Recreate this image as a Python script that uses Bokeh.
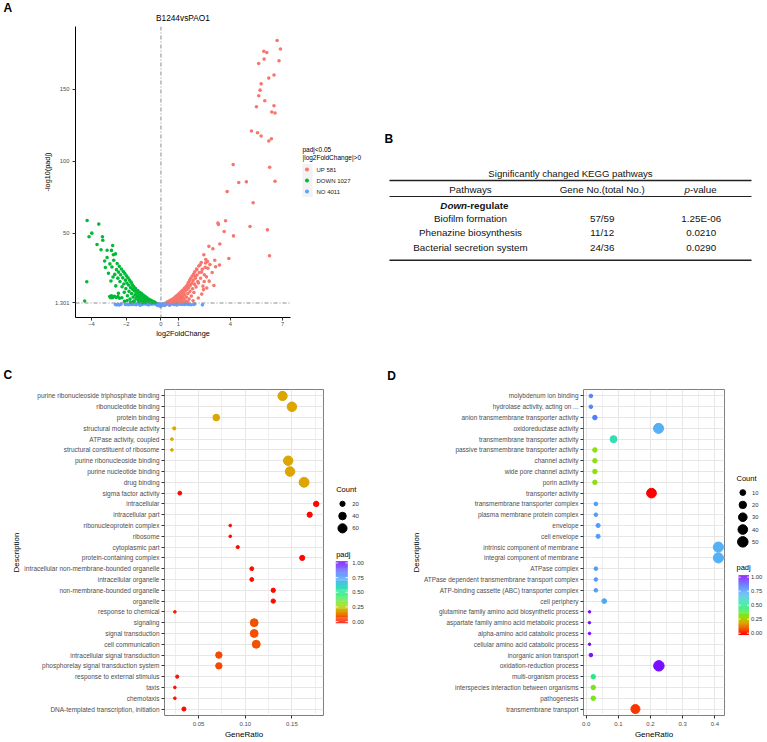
import numpy as np
from bokeh.plotting import figure
from bokeh.models import (Range1d, FactorRange, FixedTicker, PrintfTickFormatter, Span,
                          LinearColorMapper, ColumnDataSource)
from bokeh.layouts import row, column
from bokeh.transform import transform
from bokeh.core.properties import value
from bokeh.embed import file_html
from bokeh.resources import INLINE

FONT = "Liberation Sans"

# ---------------- data: panel A (volcano) ----------------
volcano_title = "B1244vsPAO1"
up_count, down_count, ns_count = 581, 1027, 4011
legend_title = ["padj<0.05", "|log2FoldChange|>0"]
padj_cut = 1.301
volc_xticks = [-4, -2, 0, 1, 4, 7]
volc_yticks = [1.301, 50, 100, 150]

up_pts = [(6.69, 184.0), (6.88, 178.0), (5.92, 176.5), (6.09, 175.6), (5.94, 171.0), (6.80, 169.9),
          (5.63, 168.0), (6.51, 159.9), (6.21, 157.8), (5.77, 153.8), (5.71, 149.4), (5.63, 145.5),
          (5.98, 142.0), (6.51, 138.6), (5.50, 137.9), (6.38, 134.2), (6.57, 133.5), (5.21, 121.0),
          (5.56, 119.8), (5.77, 117.5), (6.36, 115.6), (6.21, 114.0), (4.16, 97.6), (6.26, 95.7),
          (4.48, 85.1), (4.92, 85.6), (6.57, 86.0), (3.81, 78.8), (5.31, 71.0), (3.28, 56.9),
          (3.31, 56.0), (3.72, 58.5), (3.64, 51.0), (4.18, 48.0), (5.13, 54.5), (6.13, 52.2),
          (3.39, 42.3), (2.76, 40.7), (2.99, 39.0), (2.47, 34.9), (3.10, 31.0), (3.91, 32.3),
          (3.37, 27.7), (6.25, 34.2), (2.57, 29.1), (2.26, 27.9), (2.55, 26.1), (2.07, 24.4),
          (1.97, 19.8), (2.64, 11.7), (2.49, 16.3), (2.16, 15.2), (2.34, 22.8), (2.68, 30.2),
          (2.45, 10.6), (0.32, 1.5), (0.38, 2.1), (0.42, 1.7), (0.47, 2.6), (0.52, 1.9), (0.55, 3.1),
          (0.60, 2.4), (0.63, 3.6), (0.68, 2.0), (0.70, 4.2), (0.74, 3.0), (0.78, 4.9), (0.80, 2.4),
          (0.84, 5.6), (0.86, 3.6), (0.90, 6.3), (0.92, 2.9), (0.95, 4.6), (0.98, 7.0), (1.00, 3.4),
          (1.03, 5.6), (1.06, 8.0), (1.08, 2.6), (1.10, 6.5), (1.12, 4.2), (1.15, 9.0), (1.18, 5.2),
          (1.20, 7.4), (1.22, 3.1), (1.25, 10.2), (1.27, 6.0), (1.30, 8.5), (1.32, 4.3), (1.35, 11.5),
          (1.37, 7.0), (1.40, 9.6), (1.42, 2.7), (1.45, 12.8), (1.47, 5.4), (1.50, 10.8), (1.52, 14.0),
          (1.55, 7.9), (1.58, 15.6), (1.60, 12.0), (1.62, 4.0), (1.65, 17.0), (1.67, 9.4), (1.70, 13.6),
          (1.72, 18.5), (1.75, 6.2), (1.78, 15.0), (1.80, 20.0), (1.82, 11.2), (1.85, 17.0),
          (1.88, 21.5), (1.90, 8.6), (1.93, 14.4), (1.95, 23.0), (1.98, 18.6), (2.02, 12.5),
          (2.05, 25.0), (2.08, 20.8), (2.12, 16.2), (2.18, 27.0), (2.22, 22.5), (2.28, 18.5),
          (2.32, 29.5), (2.38, 24.8), (2.42, 13.0), (2.50, 21.0), (2.58, 31.5), (2.62, 19.5),
          (2.70, 25.5), (2.78, 16.5), (2.82, 28.0), (2.95, 22.5), (3.05, 13.5), (3.15, 26.5),
          (1.25, 1.9), (0.88, 1.6), (1.55, 2.2), (1.85, 2.9), (2.15, 4.8), (2.35, 7.5), (1.05, 1.5),
          (0.58, 1.45)]

down_pts = [(-4.25, 58.7), (-3.58, 56.2), (-3.98, 49.9), (-4.14, 47.4), (-3.37, 47.4), (-3.35, 45.0),
            (-3.68, 42.0), (-2.78, 41.3), (-3.45, 38.3), (-3.10, 38.0), (-2.85, 37.9), (-2.74, 34.9),
            (-2.62, 35.5), (-3.24, 30.5), (-4.27, 16.1), (-4.39, 2.7), (-2.95, 5.8), (-2.85, 6.3),
            (-2.75, 5.4), (-2.68, 6.0), (-2.58, 5.1), (-2.48, 5.7), (-2.90, 4.9), (-2.38, 4.6),
            (-2.80, 5.0), (-0.32, 1.5), (-0.38, 2.0), (-0.42, 1.7), (-0.47, 2.5), (-0.52, 1.9),
            (-0.56, 3.0), (-0.60, 2.3), (-0.64, 3.5), (-0.68, 2.0), (-0.72, 4.0), (-0.76, 2.8),
            (-0.80, 4.7), (-0.82, 2.3), (-0.86, 5.3), (-0.88, 3.5), (-0.92, 6.0), (-0.95, 2.8),
            (-0.98, 4.5), (-1.02, 6.8), (-1.04, 3.3), (-1.08, 5.4), (-1.12, 7.8), (-1.14, 2.6),
            (-1.17, 6.3), (-1.20, 4.2), (-1.23, 8.8), (-1.26, 5.2), (-1.29, 7.2), (-1.31, 3.0),
            (-1.34, 10.0), (-1.37, 6.0), (-1.40, 8.4), (-1.43, 4.3), (-1.46, 11.4), (-1.49, 7.0),
            (-1.52, 9.6), (-1.54, 2.7), (-1.57, 12.8), (-1.60, 5.4), (-1.63, 10.8), (-1.66, 14.2),
            (-1.69, 7.9), (-1.72, 15.8), (-1.75, 12.0), (-1.78, 4.0), (-1.81, 17.2), (-1.84, 9.4),
            (-1.87, 13.8), (-1.90, 18.8), (-1.93, 6.3), (-1.96, 15.2), (-1.99, 20.2), (-2.02, 11.3),
            (-2.05, 17.2), (-2.08, 21.8), (-2.11, 8.7), (-2.14, 14.5), (-2.17, 23.2), (-2.20, 18.8),
            (-2.24, 12.6), (-2.28, 25.0), (-2.32, 21.0), (-2.36, 16.3), (-2.40, 26.8), (-2.44, 22.8),
            (-2.48, 18.6), (-2.52, 28.8), (-2.56, 24.5), (-2.60, 13.2), (-2.66, 21.2), (-2.72, 31.0),
            (-2.76, 19.4), (-2.82, 26.3), (-2.88, 16.6), (-2.94, 28.5), (-3.02, 22.0), (-3.10, 33.0),
            (-3.20, 26.0), (-1.25, 1.9), (-0.90, 1.6), (-1.60, 2.2), (-1.95, 3.0), (-2.25, 4.9),
            (-2.45, 8.0), (-1.05, 1.5), (-0.58, 1.45), (-2.10, 2.4), (-1.75, 1.8)]

ns_pts = [(-2.62, 0.2), (-2.55, 0.0), (-2.48, 0.3), (-2.40, -0.1), (-1.95, 0.4), (-1.88, 0.1),
          (-1.80, 0.6), (-1.72, 0.2), (-1.65, 0.8), (-1.58, 0.3), (-1.50, 0.9), (-1.43, 0.1),
          (-1.36, 0.7), (-1.29, 1.0), (-1.22, 0.4), (-1.15, 0.9), (-1.08, 0.2), (-1.01, 1.1),
          (-0.94, 0.6), (-0.87, 1.0), (-0.80, 0.3), (-0.73, 1.1), (-0.66, 0.7), (-0.59, 1.2),
          (-0.52, 0.4), (-0.45, 1.0), (-0.38, 0.6), (-0.31, 1.2), (-0.24, 0.2), (-0.17, 0.9),
          (-0.10, -0.3), (-0.03, 0.5), (0.04, -0.6), (0.11, 0.8), (0.18, 0.1), (0.25, 1.1),
          (0.32, 0.4), (0.39, 0.9), (0.46, 0.2), (0.53, 1.1), (0.60, 0.6), (0.67, 1.0), (0.74, 0.3),
          (0.81, 1.1), (0.88, 0.7), (0.95, 0.2), (1.02, 0.9), (1.09, 0.5), (1.16, 1.0), (1.23, 0.3),
          (1.30, 0.8), (1.37, 0.2), (1.44, 0.6), (1.51, 0.9), (1.58, 0.3), (1.65, 0.5), (1.72, 0.1),
          (1.88, 0.2), (2.39, 0.0), (-0.05, -0.9), (0.08, -0.2), (-0.20, -0.5), (0.22, -0.4),
          (-1.20, -0.2), (0.90, -0.1), (-0.70, 0.0), (0.50, -0.2), (-2.30, 0.5), (-2.05, 0.2),
          (1.95, 0.6)]

# ---------------- data: panel B (KEGG table) ----------------
kegg_title = "Significantly changed KEGG pathways"
kegg_headers = ["Pathways", "Gene No.(total No.)"]
kegg_p_header = ("p", "-value")
kegg_group = ("Down", "-regulate")
kegg_pathways = ["Biofilm formation", "Phenazine biosynthesis", "Bacterial secretion system"]
kegg_genes = ["57/59", "11/12", "24/36"]
kegg_pvalues = ["1.25E-06", "0.0210", "0.0290"]

# ---------------- data: panel C (GO dot plot) ----------------
c_desc = ["purine ribonucleoside triphosphate binding", "ribonucleotide binding", "protein binding",
          "structural molecule activity", "ATPase activity, coupled", "structural constituent of ribosome",
          "purine ribonucleoside binding", "purine nucleotide binding", "drug binding",
          "sigma factor activity", "intracellular", "intracellular part", "ribonucleoprotein complex",
          "ribosome", "cytoplasmic part", "protein-containing complex",
          "intracellular non-membrane-bounded organelle", "intracellular organelle",
          "non-membrane-bounded organelle", "organelle", "response to chemical", "signaling",
          "signal transduction", "cell communication", "intracellular signal transduction",
          "phosphorelay signal transduction system", "response to external stimulus", "taxis",
          "chemotaxis", "DNA-templated transcription, initiation"]
c_ratio = [0.140, 0.150, 0.069, 0.024, 0.0215, 0.0215, 0.146, 0.148, 0.163, 0.030, 0.176, 0.169,
           0.084, 0.084, 0.092, 0.161, 0.107, 0.107, 0.130, 0.130, 0.0247, 0.1096, 0.1096, 0.1118,
           0.0718, 0.0718, 0.0272, 0.0247, 0.0247, 0.0344]
c_count = [62, 66, 31, 11, 10, 10, 65, 66, 72, 13, 21, 20, 10, 10, 11, 19, 13, 13, 15, 15, 10, 44,
           44, 45, 29, 29, 11, 10, 10, 14]
c_padj = [0.20, 0.20, 0.20, 0.20, 0.20, 0.20, 0.20, 0.20, 0.20, 0.01, 0.01, 0.01, 0.01, 0.01, 0.01,
          0.01, 0.015, 0.015, 0.015, 0.015, 0.04, 0.10, 0.10, 0.10, 0.09, 0.09, 0.02, 0.02, 0.02, 0.01]
c_xticks = [0.05, 0.10, 0.15]
c_minor = [0.025, 0.075, 0.125, 0.175]
c_size_breaks = [20, 40, 60]

# ---------------- data: panel D (GO dot plot) ----------------
d_desc = ["molybdenum ion binding", "hydrolase activity, acting on ...",
          "anion transmembrane transporter activity", "oxidoreductase activity",
          "transmembrane transporter activity", "passive transmembrane transporter activity",
          "channel activity", "wide pore channel activity", "porin activity", "transporter activity",
          "transmembrane transporter complex", "plasma membrane protein complex", "envelope",
          "cell envelope", "intrinsic component of membrane", "integral component of membrane",
          "ATPase complex", "ATPase dependent transmembrane transport complex",
          "ATP-binding cassette (ABC) transporter complex", "cell periphery",
          "glutamine family amino acid biosynthetic process",
          "aspartate family amino acid metabolic process", "alpha-amino acid catabolic process",
          "cellular amino acid catabolic process", "inorganic anion transport",
          "oxidation-reduction process", "multi-organism process",
          "interspecies interaction between organisms", "pathogenesis", "transmembrane transport"]
d_ratio = [0.0146, 0.0146, 0.027, 0.225, 0.085, 0.027, 0.027, 0.027, 0.027, 0.203, 0.030, 0.030,
           0.037, 0.037, 0.411, 0.411, 0.030, 0.030, 0.030, 0.056, 0.0104, 0.0100, 0.0104, 0.0104,
           0.0146, 0.226, 0.022, 0.022, 0.022, 0.153]
d_count = [3, 3, 5, 45, 17, 5, 5, 5, 5, 41, 3, 3, 4, 4, 46, 46, 3, 3, 3, 6, 2, 2, 2, 2, 3, 50, 5, 5,
           5, 34]
d_padj = [0.78, 0.78, 0.80, 0.70, 0.57, 0.32, 0.32, 0.32, 0.32, 0.00, 0.74, 0.74, 0.74, 0.74, 0.70,
          0.70, 0.74, 0.74, 0.74, 0.72, 0.99, 0.99, 0.99, 0.99, 0.97, 0.98, 0.50, 0.34, 0.34, 0.07]
d_xticks = [0.0, 0.1, 0.2, 0.3, 0.4]
d_minor = [0.05, 0.15, 0.25, 0.35]
d_size_breaks = [10, 20, 30, 40, 50]
padj_breaks = [0.0, 0.25, 0.5, 0.75, 1.0]

# ---------------- styling helpers ----------------
anchors = [(0.00, "#FF0000"), (0.12, "#F26200"), (0.20, "#DDA500"), (0.30, "#9ADF00"),
           (0.45, "#22EE6E"), (0.58, "#33DDBB"), (0.70, "#55B2F5"), (0.82, "#4A72FF"),
           (1.00, "#8000FF")]


def _rgb(h):
    return [int(h[i:i + 2], 16) for i in (1, 3, 5)]


palette = []
for k in range(256):
    t = k / 255
    for (t0, c0), (t1, c1) in zip(anchors[:-1], anchors[1:]):
        if t0 <= t <= t1:
            f = (t - t0) / (t1 - t0)
            a, b = _rgb(c0), _rgb(c1)
            palette.append("#%02X%02X%02X" % tuple(round(a[j] + (b[j] - a[j]) * f) for j in range(3)))
            break
mapper = LinearColorMapper(palette=palette, low=0, high=1)


def size_c(c):
    return 2.0 + np.sqrt(max(c - 9.5, 0))


def size_d(c):
    return 2.5 + 1.155 * np.sqrt(max(c - 2, 0))


def base_fig(**kw):
    p = figure(output_backend="svg", toolbar_location=None, title=None, **kw)
    p.background_fill_color = "white"
    p.border_fill_color = "white"
    return p


def canvas_fig(width, height, top, bottom, x0, y0):
    """Figure whose frame spans the row's aligned frame; data units = page pixels (y down)."""
    p = base_fig(width=width, height=height, x_range=Range1d(x0, x0 + width),
                 y_range=Range1d(y0 + height - bottom, y0 + top), x_axis_type=None,
                 y_axis_type=None, min_border_left=0, min_border_right=0, min_border_top=top,
                 min_border_bottom=bottom)
    p.outline_line_color = None
    p.grid.grid_line_color = None
    return p


def style_axis(ax, tick_font="6px", label_font="7.5px", line_color="black"):
    ax.axis_line_color = line_color
    ax.axis_line_width = 1
    ax.major_tick_line_color = "#333333"
    ax.major_tick_out = 3
    ax.major_tick_in = 0
    ax.minor_tick_line_color = None
    ax.major_label_text_font = FONT
    ax.major_label_text_font_size = tick_font
    ax.major_label_text_color = "#4D4D4D"
    ax.axis_label_text_font = FONT
    ax.axis_label_text_font_size = label_font
    ax.axis_label_text_font_style = "normal"
    ax.axis_label_text_color = "black"


def put_text(p, x, y, texts, size, align="left", style="normal", color="black"):
    p.text(x=x, y=y, text=texts, text_align=align, text_baseline="middle", text_font=value(FONT),
           text_font_size=size, text_font_style=style, text_color=color)


W = 766
# ================= top strip: letter A and volcano title =================
S1 = 22
strip1 = canvas_fig(W, S1, 0, 0, 0, 0)
put_text(strip1, [3], [7.5], ["A"], "12px", style="bold")
put_text(strip1, [182.4], [17], [volcano_title], "8.3px", align="center")

# ================= Row 1 =================
Y1, H1, T1, B1 = S1, 323, 4, 28
pA = base_fig(width=292, height=H1, x_range=Range1d(-4.92, 7.46), y_range=Range1d(-8.8, 193.7),
              min_border_left=75, min_border_right=2, min_border_top=T1, min_border_bottom=B1)
pA.outline_line_color = None
pA.grid.grid_line_color = None

ux, uy = zip(*up_pts)
dx, dy = zip(*down_pts)
nx, ny = zip(*ns_pts)
volc_colors = {"UP": "#F8766D", "DOWN": "#00BA38", "NO": "#619CFF"}
pA.scatter(list(nx), list(ny), marker="circle", size=3.6, fill_color=volc_colors["NO"], line_color=None)
pA.scatter(list(dx), list(dy), marker="circle", size=3.6, fill_color=volc_colors["DOWN"],
           line_color=None)
pA.scatter(list(ux), list(uy), marker="circle", size=3.6, fill_color=volc_colors["UP"], line_color=None)
pA.add_layout(Span(location=0, dimension="height", line_color="#8C8C8C", line_dash="4 2 1 2",
                   line_width=1))
pA.add_layout(Span(location=padj_cut, dimension="width", line_color="#8C8C8C", line_dash="4 2 1 2",
                   line_width=1))
style_axis(pA.xaxis[0], tick_font="5.8px", label_font="7.3px")
style_axis(pA.yaxis[0], tick_font="5.8px", label_font="7.3px")
pA.xaxis.ticker = FixedTicker(ticks=volc_xticks)
pA.yaxis.ticker = FixedTicker(ticks=volc_yticks)
pA.yaxis.major_label_overrides = {t: ("%g" % t) for t in volc_yticks}
pA.xaxis.axis_label = "log2FoldChange"
pA.yaxis.axis_label = "-log10(padj)"
pA.xaxis.major_label_standoff = 1
pA.xaxis.axis_label_standoff = 0
pA.yaxis.major_label_standoff = 3
pA.yaxis.axis_label_standoff = 0

# legend of panel A (own small canvas, page coordinates)
pAL = canvas_fig(92, H1, T1, B1, 292, Y1)
leg_labels = [f"UP {up_count}", f"DOWN {down_count}", f"NO {ns_count}"]
leg_cols = [volc_colors["UP"], volc_colors["DOWN"], volc_colors["NO"]]
key_y = [169 + 11 * i for i in range(len(leg_labels))]
put_text(pAL, [302, 302], [149, 156.5], legend_title, "6.5px")
pAL.rect(x=[307] * 3, y=key_y, width=10, height=11, fill_color="#F2F2F2", line_color=None)
pAL.scatter(x=[306.5] * 3, y=key_y, size=4, marker="circle", fill_color=leg_cols, line_color=None)
put_text(pAL, [316] * 3, key_y, leg_labels, "6px", color="#1A1A1A")

# table (panel B, page coordinates)
pB = canvas_fig(W - 384, H1, T1, B1, 384, Y1)
col_x = [470, 601.7, 700.7]
y_title, y_rule1, y_head, y_rule2, y_group, y_rule3 = 172.7, 180, 188.7, 196, 204.5, 259.7
y_row0, row_step = 217.5, 14.8
ink = "#111111"
put_text(pB, [570], [y_title], [kegg_title], "9.6px", align="center", color=ink)
put_text(pB, col_x[:2], [y_head] * 2, kegg_headers, "9.8px", align="center", color=ink)
put_text(pB, [689.5], [y_head], [kegg_p_header[0]], "9.8px", align="right", style="italic", color=ink)
put_text(pB, [689.5], [y_head], [kegg_p_header[1]], "9.8px", align="left", color=ink)
put_text(pB, [466.5], [y_group], [kegg_group[0]], "9.8px", align="right", style="bold italic",
         color=ink)
put_text(pB, [466.5], [y_group], [kegg_group[1]], "9.8px", align="left", style="bold", color=ink)
rows_y = [y_row0 + i * row_step for i in range(len(kegg_pathways))]
for cx, col in zip(col_x, [kegg_pathways, kegg_genes, kegg_pvalues]):
    put_text(pB, [cx] * len(col), rows_y, col, "9.8px", align="center", color=ink)
pB.segment(x0=[389] * 3, x1=[751] * 3, y0=[y_rule1, y_rule2, y_rule3],
           y1=[y_rule1, y_rule2, y_rule3], line_color="#222222", line_width=[1.5, 1.2, 1.5])
put_text(pB, [384], [138], ["B"], "12px", style="bold")

# ================= middle strip: letters C and D =================
S2Y, S2 = Y1 + H1, 40
strip2 = canvas_fig(W, S2, 0, 0, 0, S2Y)
put_text(strip2, [3, 386.7], [374, 375], ["C", "D"], "12px", style="bold")

# ================= Row 2 =================
Y2 = S2Y + S2
H2, T2, B2 = 741 - Y2, 4, 24


def dot_panel(desc, ratio, count, padj, sizef, width, xr, xticks, minor, fmt, mb_left, mb_right,
              label_font):
    src = ColumnDataSource(dict(desc=desc, ratio=ratio, count=count, padj=padj,
                                size=[sizef(c) for c in count]))
    p = base_fig(width=width, height=H2, x_range=Range1d(*xr),
                 y_range=FactorRange(factors=desc[::-1], range_padding=0.1,
                                     range_padding_units="absolute"),
                 min_border_left=mb_left, min_border_right=mb_right, min_border_top=T2,
                 min_border_bottom=B2)
    p.outline_line_color = "#7F7F7F"
    p.outline_line_width = 1
    p.xgrid.grid_line_color = "#E6E6E6"
    p.xgrid.minor_grid_line_color = "#EFEFEF"
    p.ygrid.grid_line_color = "#E6E6E6"
    p.scatter(x="ratio", y="desc", size="size", source=src, marker="circle",
              fill_color=transform("padj", mapper), line_color=transform("padj", mapper))
    style_axis(p.xaxis[0], tick_font="6px", label_font="8px", line_color=None)
    style_axis(p.yaxis[0], tick_font=label_font, label_font="8px", line_color=None)
    p.xaxis.ticker = FixedTicker(ticks=xticks, minor_ticks=minor)
    p.xaxis.formatter = PrintfTickFormatter(format=fmt)
    p.xaxis.axis_label = "GeneRatio"
    p.xaxis.major_label_standoff = 2
    p.xaxis.axis_label_standoff = 1
    p.yaxis.axis_label = "Description"
    p.yaxis.major_label_standoff = 2
    p.yaxis.axis_label_standoff = 0
    return p


def draw_legend(p, breaks, sizef, x_txt, x_dot, x_lab, y_count, y_dot0, step, y_padj,
                cb_x0, cb_x1, cb_top, cb_bot, lab_x, lab_font):
    ys = [y_dot0 + i * step for i in range(len(breaks))]
    put_text(p, [x_txt, x_txt], [y_count, y_padj], ["Count", "padj"], "7.5px")
    p.scatter(x=[x_dot] * len(breaks), y=ys, size=[sizef(b) for b in breaks], marker="circle",
              fill_color="black", line_color="black")
    put_text(p, [x_lab] * len(breaks), ys, [str(b) for b in breaks], lab_font, color="#333333")
    # colour bar: padj 1.00 at the top, 0.00 at the bottom
    n = 60
    edges = np.linspace(0, 1, n + 1)
    span = cb_bot - cb_top
    p.quad(left=cb_x0, right=cb_x1, bottom=[cb_bot - e * span for e in edges[:-1]],
           top=[cb_bot - e * span for e in edges[1:]],
           fill_color=[palette[min(int(((a + b) / 2) * 256), 255)] for a, b in zip(edges[:-1], edges[1:])],
           line_color=None)
    t_top, t_bot = cb_top + 1.8, cb_bot - 1.8
    by = [t_bot - v * (t_bot - t_top) for v in padj_breaks]
    tick_len = (cb_x1 - cb_x0) / 5
    p.segment(x0=[cb_x0] * len(by) + [cb_x1 - tick_len] * len(by),
              x1=[cb_x0 + tick_len] * len(by) + [cb_x1] * len(by), y0=by + by, y1=by + by,
              line_color="white", line_width=0.8)
    put_text(p, [lab_x] * len(by), by, ["%.2f" % v for v in padj_breaks], lab_font, color="#333333")


pC = dot_panel(c_desc, c_ratio, c_count, c_padj, size_c, 330, (0.0136, 0.1838), c_xticks, c_minor,
               "%.2f", 164, 7, "6.5px")

pCL = canvas_fig(68, H2, T2, B2, 330, Y2)
draw_legend(pCL, c_size_breaks, size_c, 335.7, 342, 351.7, 490, 504, 12.35, 554.7,
            335.3, 347.3, 561.7, 624.3, 351.7, "6px")

pD = dot_panel(d_desc, d_ratio, d_count, d_padj, size_d, 327, (-0.0084, 0.430), d_xticks, d_minor,
               "%.1f", 185, 1, "6.45px")

pDL = canvas_fig(W - 725, H2, T2, B2, 725, Y2)
draw_legend(pDL, d_size_breaks, size_d, 736, 742.3, 751.5, 479, 492.7, 12.4, 568.3,
            738, 748.5, 576, 636, 750.5, "5.8px")

layout = column(strip1, row(pA, pAL, pB), strip2, row(pC, pCL, pD, pDL))
open("out.html", "w").write(file_html(layout, INLINE))
